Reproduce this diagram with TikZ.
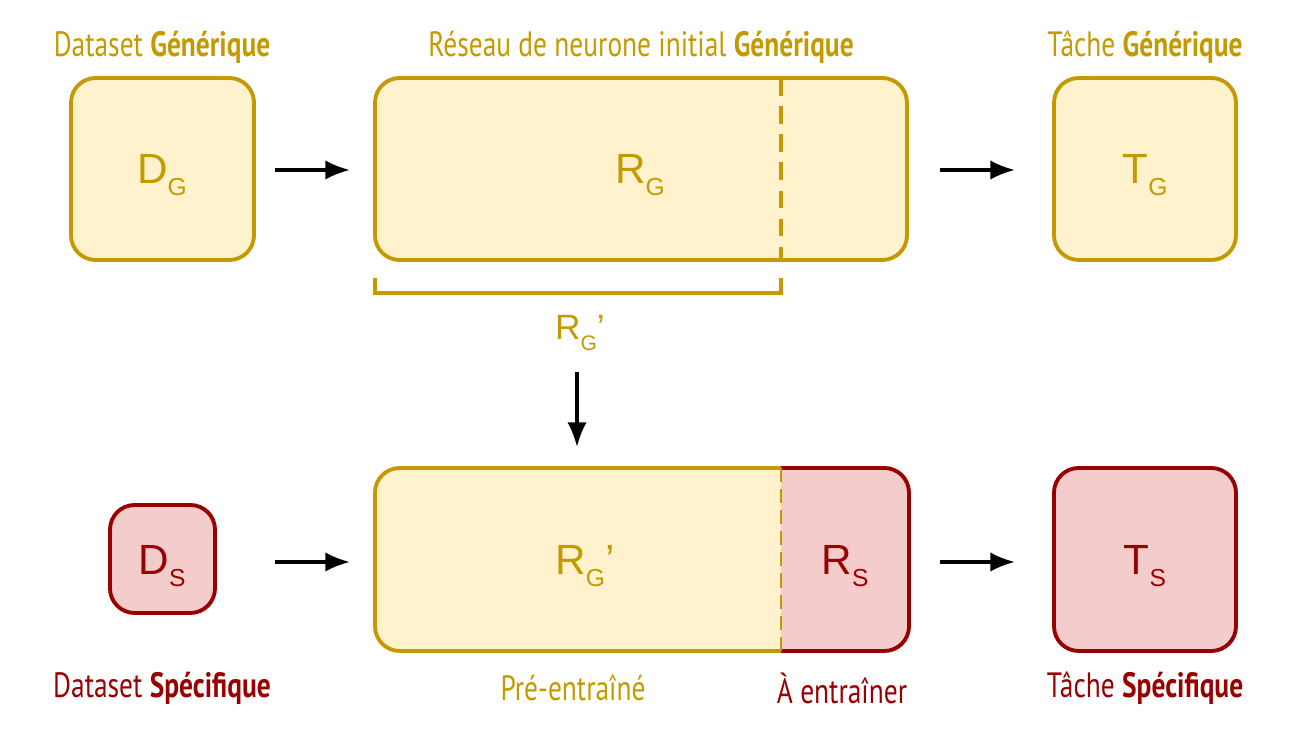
\documentclass[tikz,border=0pt]{standalone}
\usepackage{fontspec}
\setmainfont{Liberation Sans}
\newfontfamily\lab[FakeStretch=0.78]{PT Sans}
\usetikzlibrary{arrows.meta}
\definecolor{gs}{HTML}{C49A00}
\definecolor{gf}{HTML}{FFF2CC}
\definecolor{rs}{HTML}{990000}
\definecolor{rf}{HTML}{F4CCCC}
\newcommand{\sbx}[1]{\raisebox{-0.55ex}{\fontsize{7}{8}\selectfont #1}}
\begin{document}
\begin{tikzpicture}[x=0.01cm,y=-0.01cm,
 gbox/.style={draw=gs,fill=gf,line width=1.1pt,rounded corners=7pt},
 rbox/.style={draw=rs,fill=rf,line width=1.1pt,rounded corners=7pt},
 big/.style={font=\fontsize{12}{14}\selectfont},
 lbl/.style={font=\lab\fontsize{10}{12}\selectfont},
 arr/.style={-{Latex[length=7pt,width=5.5pt]},line width=0.9pt}]
\useasboundingbox (0,0) rectangle (1299,731);
% top row
\draw[gbox] (71,78) rectangle (254,260);
\node[big,gs] (dg) at (162,175) {D\sbx{G}};
\draw[gbox] (375,78) rectangle (907,260);
\draw[gs,line width=1.1pt,dash pattern=on 5pt off 3pt] (781,78) -- (781,260);
\node[big,gs] (rg) at (640,175) {R\sbx{G}};
\draw[gbox] (1054,78) rectangle (1236,260);
\node[big,gs] (tg) at (1145,175) {T\sbx{G}};
\coordinate (a1) at (275,170); \coordinate (b1) at (350,170);
\coordinate (a2) at (940,170); \coordinate (b2) at (1015,170);
\draw[arr] (a1) -- (b1); \draw[arr] (a2) -- (b2);
\node[lbl,gs] (l1) at (162,47) {Dataset \textbf{Générique}};
\node[lbl,gs] (l2) at (641,47) {Réseau de neurone initial \textbf{Générique}};
\node[lbl,gs] (l3) at (1145,47) {Tâche \textbf{Générique}};
% bracket
\draw[gs,line width=1.1pt] (375,278) -- (375,293) -- (781,293) -- (781,278);
\node[gs,font=\fontsize{10}{12}\selectfont] (rgp) at (580,333) {R\raisebox{-0.55ex}{\fontsize{6}{7}\selectfont G}’};
\coordinate (c1) at (577,372); \coordinate (c2) at (577,447);
\draw[arr] (c1) -- (c2);
% bottom row
\draw[rbox] (110,505) rectangle (215,613);
\node[big,rs] (ds) at (162,566) {D\sbx{S}};
\begin{scope}
\clip[rounded corners=7pt] (375,468) rectangle (909,651);
\fill[gf] (375,468) rectangle (781,651);
\fill[rf] (781,468) rectangle (909,651);
\end{scope}
\draw[gs,line width=1.1pt,rounded corners=7pt] (781,468) -- (375,468) -- (375,651) -- (781,651);
\draw[rs,line width=1.1pt,rounded corners=7pt] (781,468) -- (909,468) -- (909,651) -- (781,651);
\draw[gs,line width=0.6pt,dash pattern=on 4pt off 2pt] (781,468) -- (781,651);
\node[big,gs] (rgp2) at (585,566) {R\sbx{G}’};
\node[big,rs] (rsn) at (845,566) {R\sbx{S}};
\draw[rbox] (1054,468) rectangle (1236,651);
\node[big,rs] (ts) at (1145,566) {T\sbx{S}};
\coordinate (a3) at (275,562); \coordinate (b3) at (350,562);
\coordinate (a4) at (940,562); \coordinate (b4) at (1015,562);
\draw[arr] (a3) -- (b3); \draw[arr] (a4) -- (b4);
\node[lbl,rs] (l4) at (162,688) {Dataset \textbf{Spécifique}};
\node[lbl,gs] (l5) at (573,688) {Pré-entraîné};
\node[lbl,rs] (l6) at (842,688) {À entraîner};
\node[lbl,rs] (l7) at (1145,688) {Tâche \textbf{Spécifique}};
\end{tikzpicture}
\end{document}
